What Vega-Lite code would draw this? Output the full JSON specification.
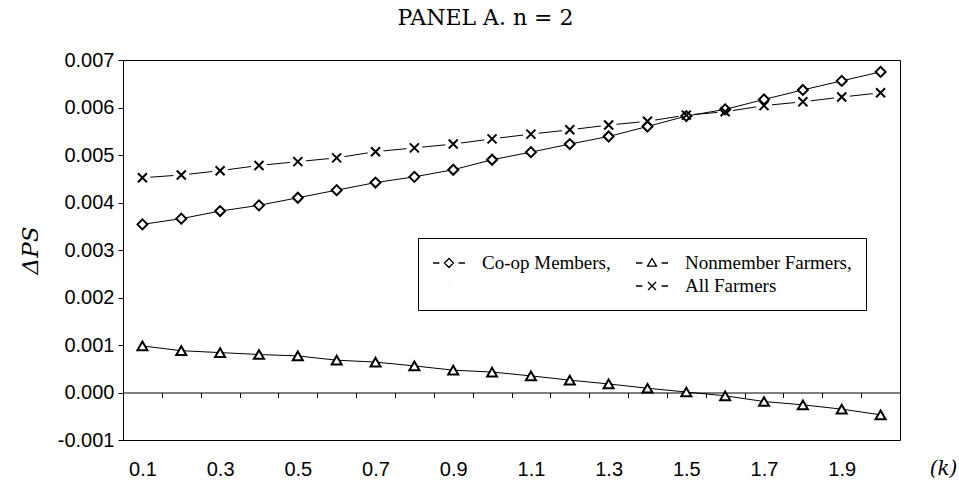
{
  "$schema": "https://vega.github.io/schema/vega-lite/v6.json",
  "width": 777,
  "height": 380,
  "autosize": {"type": "none"},
  "padding": {"left": 123, "top": 60, "right": 59, "bottom": 48},
  "background": "white",
  "config": {
    "view": {"stroke": "black", "strokeWidth": 1},
    "axis": {"labelFont": "Liberation Sans", "labelFontSize": 20, "labelColor": "black", "grid": false}
  },
  "title": {
    "text": "PANEL A.  n = 2",
    "font": "DejaVu Serif",
    "fontSize": 22,
    "fontWeight": "normal",
    "color": "black",
    "anchor": "middle",
    "frame": "group",
    "dx": -26,
    "offset": 3,
    "baseline": "alphabetic"
  },
  "data": {
    "values": [
      {"k": 0.1, "series": "Co-op Members", "v": 0.00354},
      {"k": 0.2, "series": "Co-op Members", "v": 0.00366},
      {"k": 0.3, "series": "Co-op Members", "v": 0.00382},
      {"k": 0.4, "series": "Co-op Members", "v": 0.00394},
      {"k": 0.5, "series": "Co-op Members", "v": 0.00410},
      {"k": 0.6, "series": "Co-op Members", "v": 0.00426},
      {"k": 0.7, "series": "Co-op Members", "v": 0.00442},
      {"k": 0.8, "series": "Co-op Members", "v": 0.00454},
      {"k": 0.9, "series": "Co-op Members", "v": 0.00469},
      {"k": 1.0, "series": "Co-op Members", "v": 0.00490},
      {"k": 1.1, "series": "Co-op Members", "v": 0.00506},
      {"k": 1.2, "series": "Co-op Members", "v": 0.00523},
      {"k": 1.3, "series": "Co-op Members", "v": 0.00539},
      {"k": 1.4, "series": "Co-op Members", "v": 0.00560},
      {"k": 1.5, "series": "Co-op Members", "v": 0.00582},
      {"k": 1.6, "series": "Co-op Members", "v": 0.00596},
      {"k": 1.7, "series": "Co-op Members", "v": 0.00617},
      {"k": 1.8, "series": "Co-op Members", "v": 0.00637},
      {"k": 1.9, "series": "Co-op Members", "v": 0.00656},
      {"k": 2.0, "series": "Co-op Members", "v": 0.00675},
      {"k": 0.1, "series": "Nonmember Farmers", "v": 0.00098},
      {"k": 0.2, "series": "Nonmember Farmers", "v": 0.00088},
      {"k": 0.3, "series": "Nonmember Farmers", "v": 0.00084},
      {"k": 0.4, "series": "Nonmember Farmers", "v": 0.00080},
      {"k": 0.5, "series": "Nonmember Farmers", "v": 0.00077},
      {"k": 0.6, "series": "Nonmember Farmers", "v": 0.00068},
      {"k": 0.7, "series": "Nonmember Farmers", "v": 0.00064},
      {"k": 0.8, "series": "Nonmember Farmers", "v": 0.00056},
      {"k": 0.9, "series": "Nonmember Farmers", "v": 0.00047},
      {"k": 1.0, "series": "Nonmember Farmers", "v": 0.00043},
      {"k": 1.1, "series": "Nonmember Farmers", "v": 0.00035},
      {"k": 1.2, "series": "Nonmember Farmers", "v": 0.00026},
      {"k": 1.3, "series": "Nonmember Farmers", "v": 0.00018},
      {"k": 1.4, "series": "Nonmember Farmers", "v": 0.00009},
      {"k": 1.5, "series": "Nonmember Farmers", "v": 0.00001},
      {"k": 1.6, "series": "Nonmember Farmers", "v": -0.00007},
      {"k": 1.7, "series": "Nonmember Farmers", "v": -0.00019},
      {"k": 1.8, "series": "Nonmember Farmers", "v": -0.00026},
      {"k": 1.9, "series": "Nonmember Farmers", "v": -0.00035},
      {"k": 2.0, "series": "Nonmember Farmers", "v": -0.00047},
      {"k": 0.1, "series": "All Farmers", "v": 0.00452},
      {"k": 0.2, "series": "All Farmers", "v": 0.00458},
      {"k": 0.3, "series": "All Farmers", "v": 0.00467},
      {"k": 0.4, "series": "All Farmers", "v": 0.00478},
      {"k": 0.5, "series": "All Farmers", "v": 0.00486},
      {"k": 0.6, "series": "All Farmers", "v": 0.00494},
      {"k": 0.7, "series": "All Farmers", "v": 0.00507},
      {"k": 0.8, "series": "All Farmers", "v": 0.00515},
      {"k": 0.9, "series": "All Farmers", "v": 0.00523},
      {"k": 1.0, "series": "All Farmers", "v": 0.00534},
      {"k": 1.1, "series": "All Farmers", "v": 0.00544},
      {"k": 1.2, "series": "All Farmers", "v": 0.00553},
      {"k": 1.3, "series": "All Farmers", "v": 0.00563},
      {"k": 1.4, "series": "All Farmers", "v": 0.00571},
      {"k": 1.5, "series": "All Farmers", "v": 0.00584},
      {"k": 1.6, "series": "All Farmers", "v": 0.00591},
      {"k": 1.7, "series": "All Farmers", "v": 0.00604},
      {"k": 1.8, "series": "All Farmers", "v": 0.00612},
      {"k": 1.9, "series": "All Farmers", "v": 0.00622},
      {"k": 2.0, "series": "All Farmers", "v": 0.00631}
    ]
  },
  "encoding": {
    "y": {
      "field": "v", "type": "quantitative",
      "scale": {"domain": [-0.001, 0.007], "nice": false, "zero": false},
      "axis": {
        "orient": "left",
        "values": [-0.001, 0, 0.001, 0.002, 0.003, 0.004, 0.005, 0.006, 0.007],
        "labelExpr": "replace(format(datum.value, '.3f'), '\u2212', '-')",
        "ticks": true,
        "tickSize": 5,
        "tickColor": "black",
        "domain": true,
        "domainColor": "black",
        "labelPadding": 4,
        "labelFlush": false,
        "title": "\u0394PS",
        "titleFont": "DejaVu Serif",
        "titleFontStyle": "italic",
        "titleFontWeight": "normal",
        "titleFontSize": 23,
        "titleColor": "black",
        "titleX": -93,
        "titleY": 190,
        "titleAngle": 270,
        "titleAlign": "center",
        "titleBaseline": "middle"
      }
    }
  },
  "layer": [
    {
      "transform": [{"filter": "datum.series == 'All Farmers'"}],
      "mark": {"type": "line", "color": "black", "strokeWidth": 1},
      "encoding": {
        "x": {
          "field": "k", "type": "quantitative",
          "scale": {"domain": [0.05, 2.05], "nice": false, "zero": false},
          "axis": {
            "orient": "bottom",
            "values": [0.1, 0.3, 0.5, 0.7, 0.9, 1.1, 1.3, 1.5, 1.7, 1.9],
            "format": ".1f",
            "ticks": false,
            "domain": false,
            "labelPadding": 19,
            "labelFlush": false,
            "title": "(k)",
            "titleFont": "DejaVu Serif",
            "titleFontStyle": "italic",
            "titleFontWeight": "normal",
            "titleFontSize": 20,
            "titleColor": "black",
            "titleX": 820,
            "titleY": 28,
            "titleAlign": "center",
            "titleBaseline": "middle"
          }
        }
      }
    },
    {
      "transform": [{"filter": "datum.series == 'All Farmers'"}],
      "mark": {"type": "point", "shape": "circle", "filled": true, "fill": "white", "opacity": 1, "size": 256, "strokeWidth": 0},
      "encoding": {
        "x": {"field": "k", "type": "quantitative", "scale": {"domain": [0.05, 2.05], "nice": false, "zero": false}, "axis": null}
      }
    },
    {
      "transform": [{"filter": "datum.series != 'All Farmers'"}],
      "mark": {"type": "line", "color": "black", "strokeWidth": 1},
      "encoding": {
        "x": {
          "field": "k", "type": "quantitative",
          "scale": {"domain": [0.05, 2.05], "nice": false, "zero": false},
          "axis": {
            "orient": "bottom",
            "values": [0.15, 0.25, 0.35, 0.45, 0.55, 0.65, 0.75, 0.85, 0.95, 1.05, 1.15, 1.25, 1.35, 1.45, 1.55, 1.65, 1.75, 1.85, 1.95],
            "offset": -47.5,
            "labels": false,
            "ticks": true,
            "tickSize": 5,
            "tickColor": "black",
            "domain": true,
            "domainColor": "black",
            "title": null
          }
        },
        "detail": {"field": "series"}
      }
    },
    {
      "mark": {"type": "point", "filled": true, "fill": "white", "stroke": "black", "strokeWidth": 2, "opacity": 1, "size": 100},
      "encoding": {
        "x": {"field": "k", "type": "quantitative", "scale": {"domain": [0.05, 2.05], "nice": false, "zero": false}, "axis": null},
        "shape": {
          "field": "series", "type": "nominal",
          "scale": {
            "domain": ["Co-op Members", "Nonmember Farmers", "All Farmers"],
            "range": ["diamond", "triangle-up", "M-0.9,-0.9L0.9,0.9M-0.9,0.9L0.9,-0.9"]
          },
          "legend": null
        }
      }
    },
    {
      "transform": [{"filter": "datum.k > 100"}],
      "mark": {"type": "point", "filled": false, "color": "black", "strokeWidth": 1.3, "opacity": 1},
      "encoding": {
        "x": {"field": "k", "type": "quantitative", "scale": {"domain": [0.05, 2.05], "nice": false, "zero": false}, "axis": null},
        "shape": {
          "field": "series", "type": "nominal",
          "scale": {
            "domain": ["Co-op Members", "Nonmember Farmers", "_gap", "All Farmers"],
            "range": [
              "M-1.6,0H-0.96M0.96,0H1.6M-0.45,0L0,-0.45L0.45,0L0,0.45Z",
              "M-1.6,0H-0.96M0.96,0H1.6M-0.45,0.32L0,-0.45L0.45,0.32Z",
              "M0,0H0.01",
              "M-1.6,0H-0.96M0.96,0H1.6M-0.4,-0.4L0.4,0.4M-0.4,0.4L0.4,-0.4"
            ]
          },
          "legend": {
            "title": null,
            "orient": "none",
            "legendX": 295,
            "legendY": 178,
            "columns": 2,
            "direction": "horizontal",
            "symbolSize": 400,
            "symbolOffset": 6,
            "symbolOpacity": 1,
            "symbolStrokeColor": "black",
            "symbolStrokeWidth": 1.3,
            "labelFont": "Liberation Serif",
            "labelFontSize": 19,
            "labelColor": "black",
            "labelOffset": 22,
            "labelLimit": 400,
            "labelExpr": "datum.value == '_gap' ? '' : (datum.value == 'All Farmers' ? datum.value : datum.value + ',')",
            "columnPadding": 22,
            "rowPadding": 2,
            "padding": 14,
            "fillColor": "white",
            "strokeColor": "black",
            "cornerRadius": 0
          }
        }
      }
    }
  ],
  "resolve": {"axis": {"x": "independent"}, "scale": {"shape": "independent"}}
}
